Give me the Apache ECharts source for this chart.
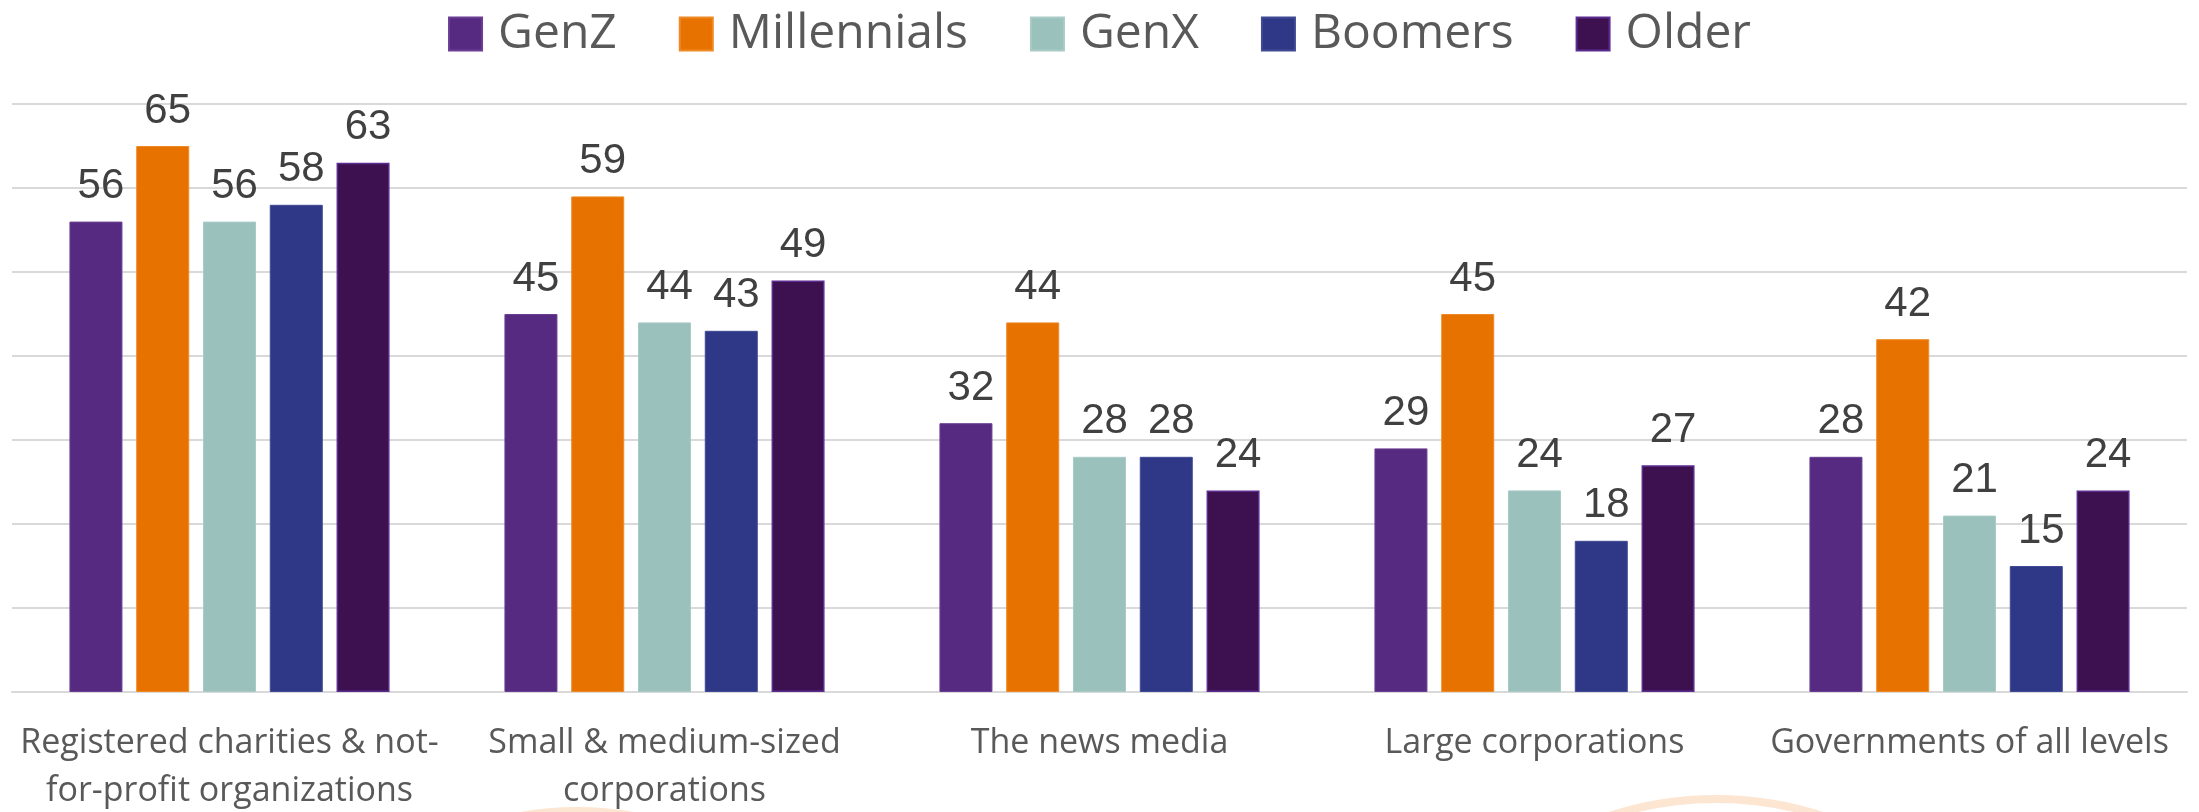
<!DOCTYPE html>
<html>
<head>
<meta charset="utf-8">
<title>Trust by generation</title>
<script src="https://cdn.jsdelivr.net/npm/echarts@6/dist/echarts.min.js"></script>
<style>
  html, body { margin: 0; padding: 0; background: #ffffff; }
  #main { width: 2199px; height: 812px; }
</style>
</head>
<body>
<div id="main"></div>
<script>
// categories (x axis) and one array per generation
var categories = [
  'Registered charities & not-\nfor-profit organizations',
  'Small & medium-sized\ncorporations',
  'The news media',
  'Large corporations',
  'Governments of all levels'
];
var genZ        = [56, 45, 32, 29, 28];
var millennials = [65, 59, 44, 45, 42];
var genX        = [56, 44, 28, 24, 21];
var boomers     = [58, 43, 28, 18, 15];
var older       = [63, 49, 24, 27, 24];

var seriesNames = ['GenZ', 'Millennials', 'GenX', 'Boomers', 'Older'];
var seriesData = [genZ, millennials, genX, boomers, older];
var colors = ['#572a81', '#e87200', '#9bc1bc', '#2e3886', '#3d1150'];
var borders = ['#6a3f93', '#ee8a26', '#a9cbc6', '#404a94', '#5c2d91'];

var chart = echarts.init(document.getElementById('main'));

var series = seriesNames.map(function (name, i) {
  return {
    name: name,
    type: 'bar',
    barWidth: 53,
    barGap: '26%',
    data: seriesData[i],
    itemStyle: {
      color: colors[i],
      borderColor: borders[i],
      borderWidth: i === 4 ? 1.5 : 1
    },
    label: {
      show: true,
      position: 'top',
      distance: 14,
      offset: [5, 0],
      fontFamily: 'Liberation Sans',
      fontSize: 42,
      lineHeight: 42,
      color: '#404040'
    }
  };
});

chart.setOption({
  animation: false,
  backgroundColor: '#ffffff',
  color: colors,
  graphic: [
    {
      type: 'circle',
      silent: true,
      z: -10,
      shape: { cx: 1716, cy: 1142, r: 343 },
      style: { fill: 'none', stroke: '#fce6d2', lineWidth: 8 }
    },
    {
      type: 'circle',
      silent: true,
      z: -10,
      shape: { cx: 577, cy: 1128, r: 317 },
      style: { fill: 'none', stroke: '#fce6d2', lineWidth: 8 }
    }
  ],
  legend: {
    data: seriesNames,
    top: 10,
    left: 'center',
    padding: 0,
    itemWidth: 33,
    itemHeight: 33,
    itemGap: 62,
    icon: 'rect',
    textStyle: {
      fontFamily: 'Open Sans',
      fontSize: 48,
      color: '#595959',
      padding: [0, 0, 0, 11]
    }
  },
  grid: {
    left: 12,
    right: 12,
    top: 104,
    bottom: 120,
    containLabel: false,
    outerBoundsMode: 'none'
  },
  xAxis: {
    type: 'category',
    data: categories,
    axisTick: { show: false },
    axisLine: { lineStyle: { color: '#d9d9d9', width: 2 } },
    axisLabel: {
      margin: 27,
      fontFamily: 'Open Sans',
      fontSize: 34,
      lineHeight: 48,
      color: '#595959',
      interval: 0
    }
  },
  yAxis: {
    type: 'value',
    min: 0,
    max: 70,
    interval: 10,
    axisLabel: { show: false },
    axisLine: { show: false },
    axisTick: { show: false },
    splitLine: { lineStyle: { color: '#d9d9d9', width: 2 } }
  },
  series: series
});
</script>
</body>
</html>
